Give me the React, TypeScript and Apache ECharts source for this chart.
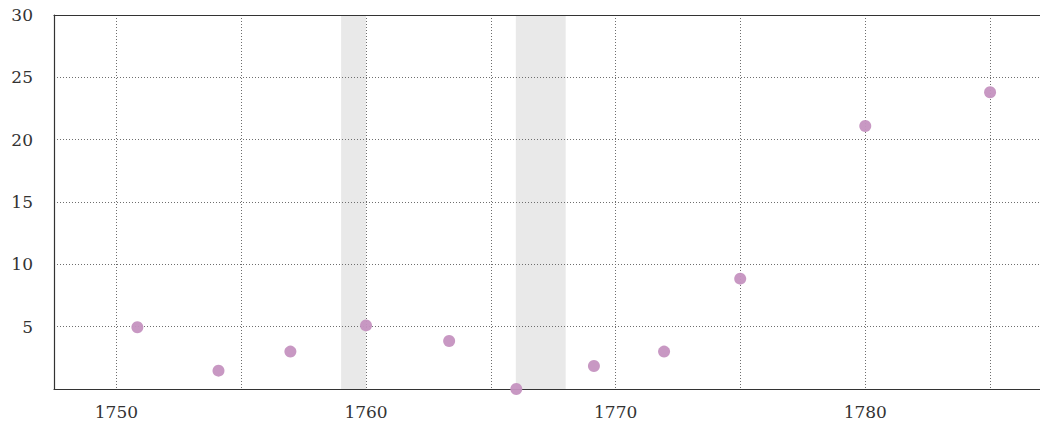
import React, { useEffect, useRef } from "react";
import * as echarts from "echarts";

const years = [1750.84, 1754.09, 1756.97, 1760.0, 1763.33, 1766.02, 1769.13, 1771.94, 1774.99, 1780.0, 1785.0];
const values = [4.95, 1.47, 3.0, 5.1, 3.85, 0, 1.85, 3.0, 8.85, 21.1, 23.8];
const bands: [number, number][] = [
  [1759, 1760],
  [1766, 1768],
];
const xGridTicks = [1750, 1755, 1760, 1765, 1770, 1775, 1780, 1785];
const xLabelTicks = [1750, 1760, 1770, 1780];

export default function App() {
  const ref = useRef<HTMLDivElement>(null);
  useEffect(() => {
    if (!ref.current) return;
    const chart = echarts.init(ref.current, undefined, { renderer: "svg" });
    const font = "'DejaVu Serif', 'Liberation Serif', serif";
    const gridLine = { show: true, lineStyle: { color: "#6e6e6e", type: [1, 2] as any, width: 1 } };
    chart.setOption({
      animation: false,
      grid: { left: 54, right: 0, top: 15, bottom: 35, containLabel: false },
      xAxis: [
        {
          type: "value",
          min: 1747.5,
          max: 1787,
          z: 3,
          axisLine: { show: true, lineStyle: { color: "#333", width: 1.2 } },
          axisTick: { show: false, customValues: xGridTicks },
          axisLabel: {
            customValues: xLabelTicks,
            formatter: (v: number) => String(v),
            color: "#333",
            fontFamily: font,
            fontSize: 17,
            margin: 14,
          },
          splitLine: gridLine,
        },
        {
          type: "value",
          position: "top",
          min: 1747.5,
          max: 1787,
          z: 3,
          axisLine: { show: true, onZero: false, lineStyle: { color: "#333", width: 1.2 } },
          axisTick: { show: false },
          axisLabel: { show: false },
          splitLine: { show: false },
        },
      ],
      yAxis: {
        type: "value",
        min: 0,
        max: 30,
        interval: 5,
        z: 3,
        axisLine: { show: true, lineStyle: { color: "#333", width: 1.2 } },
        axisTick: { show: false },
        axisLabel: {
          showMinLabel: false,
          color: "#333",
          fontFamily: font,
          fontSize: 17,
          margin: 21,
        },
        splitLine: gridLine,
      },
      series: [
        {
          type: "scatter",
          name: "bands",
          data: [],
          z: 1,
          silent: true,
          markArea: {
            silent: true,
            z: 1,
            itemStyle: { color: "rgba(0,0,0,0.086)" },
            data: bands.map(([a, b]) => [{ xAxis: a }, { xAxis: b }]),
          },
        },
        {
          type: "scatter",
          data: years.map((y, i) => [y, values[i]]),
          symbolSize: 12,
          itemStyle: { color: "#c592c0", opacity: 0.95 },
          clip: false,
          z: 5,
        },
      ],
    });
    return () => chart.dispose();
  }, []);
  return (
    <div
      ref={ref}
      style={{ position: "fixed", left: 0, top: 0, width: 1040, height: 424, background: "#fff" }}
    />
  );
}
